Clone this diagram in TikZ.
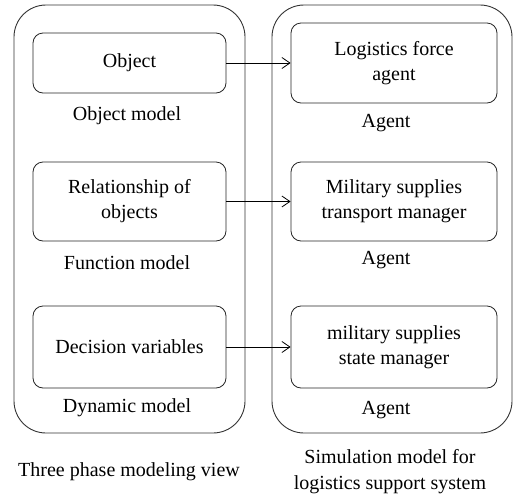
\documentclass[tikz,border=0pt]{standalone}
\usepackage{fontspec}
\setmainfont{Liberation Serif}
\usetikzlibrary{arrows.meta}
\begin{document}
\begin{tikzpicture}[x=1pt,y=-1pt,
  outerbox/.style={draw=black!80, line width=0.9pt, rounded corners=32pt, inner sep=0pt},
  innerbox/.style={draw=black!85, line width=0.8pt, rounded corners=10pt, align=center, inner sep=0pt, font=\fontsize{20}{25}\selectfont},
  lbl/.style={align=center, font=\fontsize{20}{26}\selectfont, inner sep=0pt},
  conn/.style={line width=0.8pt, -{Straight Barb[length=8pt,width=11pt]}}]
\useasboundingbox (0,0) rectangle (515,496);
% outer containers
\node[outerbox, minimum width=231pt, minimum height=428pt] (L) at (129.5,219) {};
\node[outerbox, minimum width=240pt, minimum height=428pt] (R) at (392,219) {};
% left inner boxes
\node[innerbox, minimum width=193pt, minimum height=60pt] (l1) at (129.5,63) {Object};
\node[innerbox, minimum width=193pt, minimum height=79pt] (l2) at (129.5,201.5) {Relationship of\\objects};
\node[innerbox, minimum width=193pt, minimum height=82pt] (l3) at (129.5,347) {Decision variables};
% right inner boxes
\node[innerbox, minimum width=206pt, minimum height=80pt] (r1) at (394,63) {Logistics force\\agent};
\node[innerbox, minimum width=206pt, minimum height=79pt] (r2) at (394,201.5) {Military supplies\\transport manager};
\node[innerbox, minimum width=206pt, minimum height=82pt] (r3) at (394,347) {military supplies\\state manager};
% labels
\node[lbl] (t1) at (127,116) {Object model};
\node[lbl] (t2) at (127,263) {Function model};
\node[lbl] (t3) at (127,408) {Dynamic model};
\node[lbl] (a1) at (386,123) {Agent};
\node[lbl] (a2) at (386,260) {Agent};
\node[lbl] (a3) at (386,410) {Agent};
\node[lbl] (b1) at (129,472) {Three phase modeling view};
\node[lbl] (b2) at (390,471.5) {Simulation model for\\logistics support system};
% connectors
\draw[conn] (l1.east) -- (r1.west);
\draw[conn] (l2.east) -- (r2.west);
\draw[conn] (l3.east) -- (r3.west);
\end{tikzpicture}
\end{document}
